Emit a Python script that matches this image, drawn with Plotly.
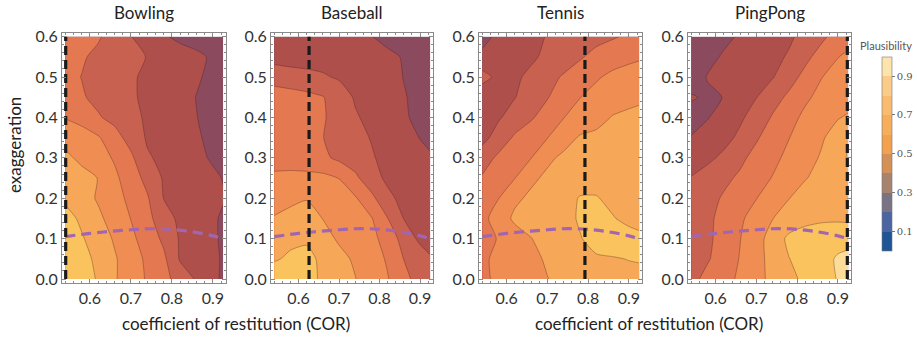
import plotly.graph_objects as go

# ---------------- data ----------------
cor = [0.54, 0.58, 0.62, 0.66, 0.70, 0.74, 0.78, 0.82, 0.86, 0.90, 0.925]
exag = [0.0, 0.05, 0.1, 0.15, 0.2, 0.25, 0.3, 0.35, 0.4, 0.45, 0.5, 0.55, 0.6]

bowling = [
    [0.88, 0.85, 0.79, 0.71, 0.65, 0.59, 0.53, 0.46, 0.39, 0.33, 0.28],
    [0.88, 0.83, 0.78, 0.71, 0.65, 0.58, 0.52, 0.39, 0.35, 0.32, 0.29],
    [0.86, 0.81, 0.75, 0.69, 0.62, 0.56, 0.48, 0.39, 0.35, 0.31, 0.29],
    [0.84, 0.78, 0.72, 0.66, 0.598, 0.53, 0.44, 0.38, 0.35, 0.31, 0.29],
    [0.78, 0.74, 0.69, 0.63, 0.58, 0.51, 0.398, 0.37, 0.35, 0.32, 0.305],
    [0.76, 0.73, 0.698, 0.62, 0.55, 0.47, 0.39, 0.36, 0.34, 0.315, 0.297],
    [0.72, 0.68, 0.64, 0.59, 0.52, 0.41, 0.38, 0.35, 0.32, 0.29, 0.27],
    [0.67, 0.64, 0.61, 0.54, 0.46, 0.39, 0.37, 0.34, 0.31, 0.28, 0.26],
    [0.595, 0.57, 0.51, 0.47, 0.42, 0.39, 0.36, 0.33, 0.302, 0.27, 0.26],
    [0.54, 0.51, 0.475, 0.445, 0.41, 0.385, 0.36, 0.33, 0.298, 0.28, 0.26],
    [0.53, 0.498, 0.47, 0.44, 0.41, 0.385, 0.36, 0.335, 0.31, 0.28, 0.26],
    [0.54, 0.51, 0.48, 0.455, 0.425, 0.397, 0.37, 0.34, 0.315, 0.29, 0.27],
    [0.56, 0.54, 0.51, 0.46, 0.402, 0.36, 0.31, 0.28, 0.27, 0.26, 0.25],
]

baseball = [
    [0.86, 0.84, 0.82, 0.79, 0.75, 0.703, 0.65, 0.605, 0.53, 0.46, 0.42],
    [0.79, 0.815, 0.82, 0.785, 0.73, 0.685, 0.64, 0.59, 0.498, 0.45, 0.41],
    [0.75, 0.78, 0.79, 0.737, 0.686, 0.654, 0.622, 0.568, 0.457, 0.38, 0.36],
    [0.705, 0.72, 0.74, 0.698, 0.669, 0.638, 0.606, 0.502, 0.398, 0.37, 0.35],
    [0.67, 0.685, 0.695, 0.68, 0.645, 0.61, 0.525, 0.425, 0.37, 0.35, 0.34],
    [0.61, 0.615, 0.62, 0.625, 0.598, 0.52, 0.44, 0.38, 0.35, 0.33, 0.32],
    [0.58, 0.575, 0.56, 0.52, 0.48, 0.45, 0.41, 0.37, 0.34, 0.32, 0.31],
    [0.57, 0.56, 0.54, 0.502, 0.465, 0.43, 0.395, 0.365, 0.33, 0.298, 0.28],
    [0.57, 0.56, 0.54, 0.51, 0.46, 0.41, 0.375, 0.34, 0.31, 0.28, 0.26],
    [0.56, 0.55, 0.53, 0.505, 0.45, 0.39, 0.365, 0.335, 0.305, 0.28, 0.26],
    [0.45, 0.43, 0.42, 0.41, 0.39, 0.37, 0.35, 0.325, 0.298, 0.28, 0.26],
    [0.37, 0.37, 0.37, 0.365, 0.36, 0.35, 0.33, 0.315, 0.295, 0.27, 0.26],
    [0.36, 0.36, 0.355, 0.35, 0.34, 0.32, 0.302, 0.28, 0.27, 0.26, 0.25],
]

tennis = [
    [0.585, 0.615, 0.64, 0.675, 0.698, 0.72, 0.745, 0.765, 0.775, 0.78, 0.78],
    [0.585, 0.62, 0.645, 0.68, 0.71, 0.74, 0.77, 0.79, 0.795, 0.802, 0.805],
    [0.57, 0.605, 0.65, 0.698, 0.73, 0.76, 0.795, 0.83, 0.84, 0.83, 0.82],
    [0.575, 0.64, 0.72, 0.73, 0.75, 0.77, 0.81, 0.83, 0.805, 0.78, 0.77],
    [0.56, 0.598, 0.68, 0.72, 0.74, 0.77, 0.805, 0.805, 0.78, 0.76, 0.75],
    [0.51, 0.56, 0.598, 0.68, 0.72, 0.745, 0.765, 0.77, 0.76, 0.75, 0.745],
    [0.45, 0.52, 0.56, 0.598, 0.68, 0.72, 0.74, 0.75, 0.75, 0.745, 0.74],
    [0.37, 0.44, 0.515, 0.55, 0.598, 0.66, 0.71, 0.72, 0.725, 0.725, 0.72],
    [0.33, 0.39, 0.44, 0.49, 0.54, 0.598, 0.64, 0.67, 0.705, 0.715, 0.715],
    [0.32, 0.36, 0.397, 0.44, 0.495, 0.55, 0.598, 0.63, 0.66, 0.68, 0.69],
    [0.44, 0.37, 0.385, 0.42, 0.47, 0.51, 0.55, 0.59, 0.62, 0.635, 0.64],
    [0.32, 0.33, 0.35, 0.385, 0.42, 0.455, 0.49, 0.53, 0.56, 0.58, 0.59],
    [0.27, 0.32, 0.345, 0.375, 0.405, 0.43, 0.45, 0.47, 0.49, 0.515, 0.53],
]

pingpong = [
    [0.47, 0.53, 0.57, 0.615, 0.67, 0.725, 0.775, 0.82, 0.86, 0.905, 0.93],
    [0.42, 0.49, 0.55, 0.605, 0.67, 0.73, 0.798, 0.835, 0.87, 0.91, 0.92],
    [0.40, 0.48, 0.54, 0.598, 0.66, 0.745, 0.82, 0.84, 0.855, 0.87, 0.875],
    [0.41, 0.48, 0.53, 0.585, 0.64, 0.698, 0.745, 0.775, 0.785, 0.785, 0.78],
    [0.43, 0.47, 0.51, 0.555, 0.598, 0.65, 0.698, 0.74, 0.76, 0.77, 0.775],
    [0.405, 0.44, 0.48, 0.515, 0.56, 0.605, 0.65, 0.695, 0.73, 0.76, 0.775],
    [0.35, 0.38, 0.42, 0.48, 0.53, 0.575, 0.625, 0.665, 0.71, 0.76, 0.81],
    [0.305, 0.34, 0.37, 0.42, 0.49, 0.545, 0.598, 0.64, 0.69, 0.74, 0.79],
    [0.26, 0.295, 0.34, 0.385, 0.44, 0.51, 0.57, 0.62, 0.66, 0.695, 0.71],
    [0.31, 0.285, 0.302, 0.35, 0.398, 0.46, 0.52, 0.585, 0.625, 0.65, 0.665],
    [0.25, 0.305, 0.33, 0.35, 0.37, 0.395, 0.46, 0.53, 0.598, 0.63, 0.64],
    [0.24, 0.275, 0.31, 0.335, 0.355, 0.375, 0.41, 0.475, 0.54, 0.598, 0.615],
    [0.23, 0.255, 0.28, 0.31, 0.33, 0.355, 0.385, 0.43, 0.48, 0.54, 0.57],
]

sports = ["Bowling", "Baseball", "Tennis", "PingPong"]
grids = [bowling, baseball, tennis, pingpong]
ball_cor = [0.541, 0.626, 0.792, 0.923]          # vertical dashed line per sport
curve_cor = [0.54, 0.60, 0.65, 0.70, 0.75, 0.80, 0.85, 0.90, 0.925]
curve_exag = [0.105, 0.113, 0.118, 0.122, 0.125, 0.123, 0.117, 0.107, 0.100]

x_ticks = [0.6, 0.7, 0.8, 0.9]
y_ticks = [0.0, 0.1, 0.2, 0.3, 0.4, 0.5, 0.6]
bar_ticks = [0.1, 0.3, 0.5, 0.7, 0.9]

# ---------------- styling ----------------
map_colors = ["#5E3D5C", "#743F5A", "#8B4A5E", "#AF4F4B", "#C8614F",
              "#E47850", "#EF8D52", "#F6A757", "#FBC35D", "#FDDB98"]
bar_colors = ["#1F5596", "#4C64A2", "#7A7384", "#A7826F", "#D39158",
              "#F2A24E", "#F6AE5C", "#F9BB6E", "#FBCB88", "#FDE3AC"]
bar_scale = []
for i, c in enumerate(bar_colors):
    bar_scale.append([i / 10, c])
    bar_scale.append([(i + 1) / 10, c])

FONT = "Lato"
domains = [[62 / 917, 226 / 917], [271 / 917, 433 / 917],
           [479 / 917, 642 / 917], [688 / 917, 851 / 917]]
ydom = [1 - 283.3 / 337, 1 - 33.3 / 337]

fig = go.Figure()
layout = dict(
    width=917, height=337, autosize=False,
    margin=dict(l=0, r=0, t=0, b=0, autoexpand=False),
    paper_bgcolor="white", plot_bgcolor="white",
    showlegend=False,
    font=dict(family=FONT, size=15, color="#333"),
)

for i, (name, z) in enumerate(zip(sports, grids)):
    n = "" if i == 0 else str(i + 1)
    xa, ya = "x" + n, "y" + n
    fig.add_trace(go.Contour(
        x=cor, y=exag, z=z,
        colorscale=[[k / 9, c] for k, c in enumerate(map_colors)],
        contours=dict(start=0.1, end=0.9, size=0.1, coloring="fill", showlines=True),
        line=dict(width=0.6, color="rgba(60,30,30,0.55)", smoothing=0.6),
        showscale=False, hoverinfo="skip", xaxis=xa, yaxis=ya,
    ))
    fig.add_trace(go.Scatter(
        x=curve_cor, y=curve_exag, mode="lines",
        line=dict(color="#A365B0", width=3.2, dash="10px,6px", shape="spline"),
        hoverinfo="skip", xaxis=xa, yaxis=ya,
    ))
    fig.add_trace(go.Scatter(
        x=[ball_cor[i], ball_cor[i]], y=[0.0, 0.6], mode="lines",
        line=dict(color="#1a1a1a", width=3.2, dash="9px,5px"),
        hoverinfo="skip", xaxis=xa, yaxis=ya,
    ))
    axis_common = dict(
        showline=True, mirror="allticks", linecolor="#8a8a8a", linewidth=1,
        ticks="inside", ticklen=4, tickcolor="#8a8a8a", showgrid=False, zeroline=False,
        tickfont=dict(family=FONT, size=16, color="#333"), tickformat=".1f",
    )
    layout["xaxis" + n] = dict(
        axis_common, domain=domains[i], range=[0.532, 0.932], tickvals=x_ticks,
        anchor=ya,
        minor=dict(dtick=0.02, tick0=0.5, ticklen=2, ticks="inside", tickcolor="#8a8a8a"),
    )
    layout["yaxis" + n] = dict(
        axis_common, domain=ydom, range=[-0.0105, 0.6083], tickvals=y_ticks,
        anchor=xa,
        minor=dict(dtick=0.02, tick0=0, ticklen=2, ticks="inside", tickcolor="#8a8a8a"),
    )

# colorbar (legend of plausibility)
fig.add_trace(go.Scatter(
    x=[None], y=[None], mode="markers", xaxis="x4", yaxis="y4", hoverinfo="skip",
    marker=dict(
        color=[0.5], cmin=0, cmax=1, colorscale=bar_scale, showscale=True, size=0,
        colorbar=dict(
            x=881.7 / 917, xanchor="left", xpad=0,
            y=1 - 56.7 / 337, yanchor="top", ypad=0,
            len=194 / 337, lenmode="fraction", thickness=10,
            outlinewidth=0.6, outlinecolor="#777",
            tickvals=bar_ticks, ticktext=[str(t) for t in bar_ticks],
            ticks="outside", ticklen=3, tickcolor="#777",
            tickfont=dict(family="DejaVu Serif", size=10, color="#555"),
        ),
    ),
))

annotations = []
for i, name in enumerate(sports):
    annotations.append(dict(
        text=name, x=(domains[i][0] + domains[i][1]) / 2, y=1 - 12 / 337,
        xref="paper", yref="paper", showarrow=False, xanchor="center", yanchor="middle",
        font=dict(family=FONT, size=17, color="#222"),
    ))
for cx in [236 / 917, 649 / 917]:
    annotations.append(dict(
        text="coefficient of restitution (COR)", x=cx, y=1 - 323 / 337,
        xref="paper", yref="paper", showarrow=False, xanchor="center", yanchor="middle",
        font=dict(family=FONT, size=17, color="#222"),
    ))
annotations.append(dict(
    text="exaggeration", x=14 / 917, y=1 - 145 / 337, textangle=-90,
    xref="paper", yref="paper", showarrow=False, xanchor="center", yanchor="middle",
    font=dict(family=FONT, size=17, color="#222"),
))
annotations.append(dict(
    text="Plausibility", x=886 / 917, y=1 - 45 / 337,
    xref="paper", yref="paper", showarrow=False, xanchor="center", yanchor="middle",
    font=dict(family=FONT, size=11, color="#555"),
))
layout["annotations"] = annotations

fig.update_layout(**layout)
fig.write_html("out.html")
